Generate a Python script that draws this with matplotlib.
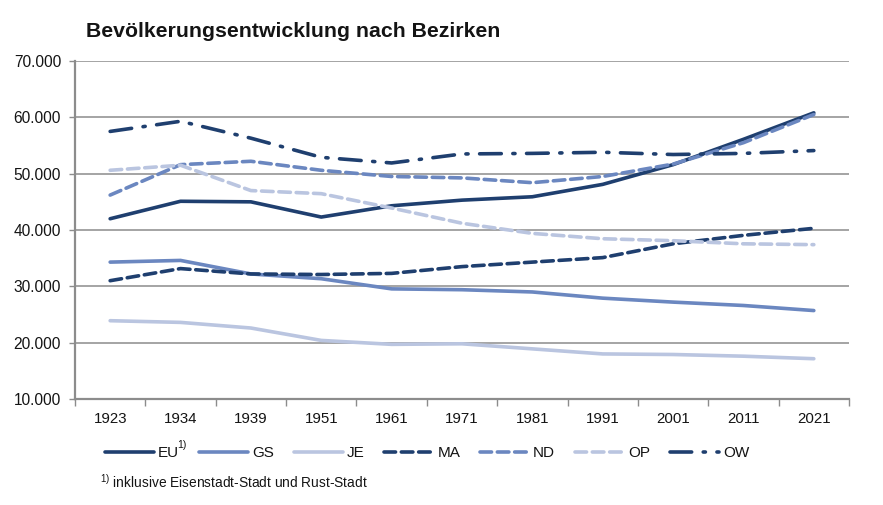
import matplotlib
matplotlib.use("Agg")
import matplotlib.pyplot as plt
from matplotlib.ticker import FuncFormatter, MultipleLocator

plt.rcParams['font.family'] = ['Liberation Sans', 'DejaVu Sans']
plt.rcParams['mathtext.fontset'] = 'custom'
plt.rcParams['mathtext.rm'] = 'Liberation Sans'
plt.rcParams['mathtext.it'] = 'Liberation Sans'

years = ["1923", "1934", "1939", "1951", "1961", "1971", "1981", "1991", "2001", "2011", "2021"]

EU = [42000, 45100, 45000, 42300, 44300, 45300, 45900, 48100, 51600, 56100, 60800]
GS = [34300, 34600, 32200, 31350, 29550, 29400, 29000, 27900, 27200, 26600, 25700]
JE = [23900, 23600, 22600, 20400, 19700, 19800, 18900, 18000, 17900, 17600, 17150]
MA = [31000, 33150, 32200, 32100, 32300, 33500, 34300, 35100, 37550, 39050, 40300]
ND = [46200, 51600, 52200, 50600, 49500, 49250, 48400, 49500, 51700, 55500, 60500]
OP = [50600, 51500, 47000, 46450, 43900, 41200, 39400, 38450, 38100, 37550, 37400]
OW = [57500, 59300, 56300, 52900, 51900, 53500, 53600, 53800, 53400, 53600, 54100]

DARK = '#1F3F6F'
MID = '#6B87C0'
LIGHT = '#BAC5E0'
GRID = '#8C8C8C'
TXT = '#141414'

series = [
    ("EU", EU, DARK, '-'),
    ("GS", GS, MID, '-'),
    ("JE", JE, LIGHT, '-'),
    ("MA", MA, DARK, (0, (3.2, 1.6))),
    ("ND", ND, MID, (0, (3.2, 1.6))),
    ("OP", OP, LIGHT, (0, (3.2, 1.6))),
    ("OW", OW, DARK, (0, (6, 3.2, 0.6, 3.2))),
]

fig = plt.figure(figsize=(8.83, 5.05), dpi=100)
ax = fig.add_axes([0.0849, 0.2099, 0.8766, 0.6693])

x = list(range(len(years)))
handles = []
for name, vals, col, ls in series:
    ln, = ax.plot(x, vals, color=col, lw=2.6, linestyle=ls,
                  solid_capstyle='round', dash_capstyle='round', label=name, zorder=3)
    handles.append(ln)

ax.set_xlim(-0.5, len(years) - 0.5)
ax.set_ylim(10000, 70000)
ax.yaxis.set_major_locator(MultipleLocator(10000))
ax.yaxis.set_major_formatter(FuncFormatter(lambda v, p: f"{int(v):,}".replace(",", ".")))
ax.set_xticks(x)
ax.set_xticklabels(years)
ax.set_xticks([i - 0.5 for i in range(len(years) + 1)], minor=True)
ax.tick_params(axis='x', which='major', length=0, pad=9, labelsize=10.8, colors=TXT)
ax.tick_params(axis='x', which='minor', length=5, width=1, color=GRID, direction='out')
ax.tick_params(axis='y', which='major', length=4, width=1, color=GRID, labelsize=11.2,
               labelcolor=TXT, pad=6)

ax.grid(axis='y', color=GRID, lw=1.1, zorder=0)
ax.set_axisbelow(True)
for s in ['top', 'right']:
    ax.spines[s].set_visible(False)
for s in ['left', 'bottom']:
    ax.spines[s].set_color(GRID)
    ax.spines[s].set_linewidth(1.6)

fig.text(0.0974, 0.926, "Bevölkerungsentwicklung nach Bezirken", fontsize=15.35,
         fontweight='bold', color=TXT, va='baseline', ha='left')

leg = fig.legend(handles=handles, loc='center left', bbox_to_anchor=(0.119, 0.102),
                 ncol=7, frameon=False, fontsize=11, handlelength=3.2,
                 columnspacing=1.3, handletextpad=0.27, borderaxespad=0, borderpad=0)
for t in leg.get_texts():
    t.set_color(TXT)

# superscript footnote marker after "EU" in the legend
fig.canvas.draw()
eu_bb = leg.get_texts()[0].get_window_extent()
fx, fy = fig.transFigure.inverted().transform((eu_bb.x1 - 2, eu_bb.y1 + 1))
fig.text(fx, fy, "1)", fontsize=7.5, color=TXT, va='center', ha='left')

fig.text(0.113, 0.046, "$^{1)}$ inklusive Eisenstadt-Stadt und Rust-Stadt", fontsize=9.9,
         color=TXT, va='center', ha='left')

fig.savefig("out.png", dpi=100, facecolor='white')
